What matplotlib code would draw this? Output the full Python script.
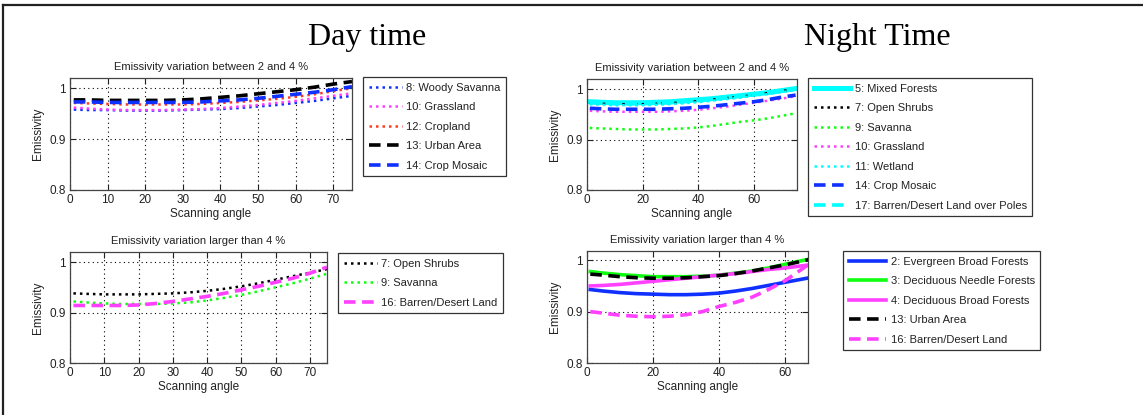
import matplotlib
matplotlib.use("Agg")
import matplotlib.pyplot as plt
from matplotlib.lines import Line2D

plt.rcParams['font.family'] = ['Liberation Sans', 'DejaVu Sans']

# ---------------- data ----------------
angles = [1, 5, 10, 15, 20, 25, 30, 35, 40, 45, 50, 55, 60, 65, 70, 75]

# Day time, variation between 2 and 4 %
day_woody_savanna = [0.958, 0.957, 0.957, 0.956, 0.956, 0.956, 0.957, 0.958, 0.959, 0.961, 0.964, 0.967, 0.971, 0.975, 0.980, 0.985]
day_grassland     = [0.962, 0.960, 0.958, 0.957, 0.957, 0.957, 0.958, 0.959, 0.961, 0.964, 0.967, 0.971, 0.975, 0.980, 0.985, 0.990]
day_cropland      = [0.971, 0.970, 0.969, 0.968, 0.968, 0.968, 0.968, 0.969, 0.971, 0.973, 0.976, 0.979, 0.983, 0.988, 0.994, 1.000]
day_urban         = [0.977, 0.977, 0.976, 0.976, 0.976, 0.976, 0.977, 0.979, 0.982, 0.985, 0.989, 0.993, 0.997, 1.002, 1.008, 1.013]
day_crop_mosaic   = [0.973, 0.973, 0.972, 0.972, 0.972, 0.972, 0.972, 0.973, 0.975, 0.977, 0.980, 0.984, 0.988, 0.992, 0.997, 1.003]

# Day time, variation larger than 4 %
day_open_shrubs   = [0.938, 0.937, 0.936, 0.936, 0.936, 0.937, 0.938, 0.940, 0.943, 0.947, 0.952, 0.958, 0.965, 0.972, 0.979, 0.986]
day_savanna       = [0.922, 0.920, 0.918, 0.917, 0.917, 0.917, 0.918, 0.920, 0.924, 0.929, 0.935, 0.942, 0.950, 0.958, 0.967, 0.977]
day_barren        = [0.914, 0.914, 0.914, 0.914, 0.915, 0.918, 0.922, 0.927, 0.932, 0.938, 0.945, 0.952, 0.960, 0.968, 0.978, 0.990]

# Night time, variation between 2 and 4 %
night_mixed_forests = [0.975, 0.974, 0.973, 0.973, 0.973, 0.974, 0.975, 0.977, 0.979, 0.981, 0.984, 0.987, 0.990, 0.993, 0.997, 1.001]
night_open_shrubs   = [0.972, 0.971, 0.970, 0.970, 0.970, 0.971, 0.972, 0.974, 0.976, 0.979, 0.982, 0.985, 0.988, 0.992, 0.996, 1.000]
night_savanna       = [0.923, 0.922, 0.921, 0.920, 0.920, 0.920, 0.921, 0.922, 0.924, 0.927, 0.931, 0.935, 0.938, 0.942, 0.947, 0.952]
night_grassland     = [0.957, 0.956, 0.955, 0.955, 0.955, 0.955, 0.956, 0.957, 0.959, 0.962, 0.965, 0.969, 0.973, 0.977, 0.981, 0.986]
night_wetland       = [0.970, 0.969, 0.968, 0.968, 0.968, 0.969, 0.970, 0.972, 0.974, 0.977, 0.980, 0.983, 0.987, 0.990, 0.994, 0.998]
night_crop_mosaic   = [0.962, 0.961, 0.960, 0.960, 0.960, 0.960, 0.961, 0.962, 0.964, 0.966, 0.969, 0.972, 0.975, 0.979, 0.984, 0.988]
night_barren_poles  = [0.973, 0.972, 0.971, 0.971, 0.971, 0.972, 0.973, 0.975, 0.977, 0.980, 0.983, 0.986, 0.989, 0.993, 0.997, 1.001]

# Night time, variation larger than 4 %
night_evergreen     = [0.943, 0.940, 0.937, 0.935, 0.934, 0.933, 0.933, 0.934, 0.936, 0.940, 0.945, 0.951, 0.957, 0.963, 0.969, 0.975]
night_decid_needle  = [0.978, 0.975, 0.972, 0.970, 0.968, 0.968, 0.968, 0.969, 0.971, 0.975, 0.979, 0.985, 0.992, 0.999, 1.006, 1.013]
night_decid_broad   = [0.950, 0.951, 0.953, 0.956, 0.959, 0.962, 0.965, 0.968, 0.971, 0.974, 0.978, 0.982, 0.985, 0.989, 0.993, 0.997]
night_urban         = [0.973, 0.971, 0.968, 0.966, 0.965, 0.965, 0.966, 0.968, 0.970, 0.974, 0.979, 0.985, 0.991, 0.998, 1.005, 1.012]
night_barren        = [0.900, 0.897, 0.893, 0.891, 0.890, 0.891, 0.894, 0.900, 0.910, 0.918, 0.928, 0.943, 0.960, 0.982, 1.005, 1.030]

panel_titles = ["Emissivity variation between 2 and 4 %", "Emissivity variation larger than 4 %"]
day_x_ticks = [0, 10, 20, 30, 40, 50, 60, 70]
night_x_ticks = [0, 20, 40, 60]
y_ticks = [0.8, 0.9, 1.0]
y_tick_labels = ["0.8", "0.9", "1"]

# ---------------- styling ----------------
BLUE = "#1030ff"
MAG = "#ff40ff"
RED = "#ff3a20"
BLK = "#000000"
GRN = "#10ff10"
CYA = "#00ffff"
FS = 8

W, H = 1143, 415
fig = plt.figure(figsize=(W / 100, H / 100), dpi=100)


def px_axes(x0, y0, x1, y1):
    return fig.add_axes([x0 / W, 1 - y1 / H, (x1 - x0) / W, (y1 - y0) / H])


def style(ax, xticks, xlim, ylim, title):
    ax.set_xlim(*xlim)
    ax.set_ylim(*ylim)
    ax.set_xticks(xticks)
    ax.set_yticks(y_ticks)
    ax.set_yticklabels(y_tick_labels)
    ax.tick_params(direction='in', length=4, width=0.8, top=True, right=True,
                   labelsize=FS + 0.5, pad=3, colors='#222222')
    ax.grid(True, linestyle=(0, (1, 3)), color='black', linewidth=0.8)
    for s in ax.spines.values():
        s.set_linewidth(0.9)
        s.set_color('#444444')
    ax.set_title(title, fontsize=FS, pad=6, color='#222222')
    ax.set_xlabel("Scanning angle", fontsize=FS + 0.5, labelpad=1, color='#222222')
    ax.set_ylabel("Emissivity", fontsize=FS + 0.5, labelpad=4, color='#222222')


def legend(ax, x, y, hl=3.0):
    lg = ax.legend(loc='upper left', bbox_to_anchor=(x / W, 1 - y / H),
                   bbox_transform=fig.transFigure, fontsize=FS, frameon=True,
                   fancybox=False, edgecolor='#333333', framealpha=1,
                   handlelength=hl, handletextpad=0.4, labelspacing=0.86,
                   borderpad=0.5, borderaxespad=0)
    lg.get_frame().set_linewidth(0.9)
    for t in lg.get_texts():
        t.set_color('#222222')
    return lg


DOT = (0, (1, 1.6))
DASH = (0, (3.2, 1.8))

# Top-left
ax1 = px_axes(70, 78, 352, 190)
ax1.plot(angles, day_woody_savanna, color=BLUE, ls=DOT, lw=1.8, label="8: Woody Savanna")
ax1.plot(angles, day_grassland, color=MAG, ls=DOT, lw=1.8, label="10: Grassland")
ax1.plot(angles, day_cropland, color=RED, ls=DOT, lw=1.8, label="12: Cropland")
ax1.plot(angles, day_urban, color=BLK, ls=DASH, lw=2.6, label="13: Urban Area")
ax1.plot(angles, day_crop_mosaic, color=BLUE, ls=DASH, lw=2.6, label="14: Crop Mosaic")
style(ax1, day_x_ticks, (0, 75), (0.8, 1.02), panel_titles[0])
legend(ax1, 363, 77)

# Bottom-left
ax2 = px_axes(70, 252, 327, 363)
ax2.plot(angles, day_open_shrubs, color=BLK, ls=DOT, lw=1.8, label="7: Open Shrubs")
ax2.plot(angles, day_savanna, color=GRN, ls=DOT, lw=1.8, label="9: Savanna")
ax2.plot(angles, day_barren, color=MAG, ls=DASH, lw=2.6, label="16: Barren/Desert Land")
style(ax2, day_x_ticks, (0, 75), (0.8, 1.02), panel_titles[1])
legend(ax2, 338, 253)

# Top-right
ax3 = px_axes(587, 79, 797, 190)
ax3.plot(angles, night_mixed_forests, color=CYA, ls='-', lw=3.6, label="5: Mixed Forests")
ax3.plot(angles, night_open_shrubs, color=BLK, ls=DOT, lw=1.8, label="7: Open Shrubs")
ax3.plot(angles, night_savanna, color=GRN, ls=DOT, lw=1.8, label="9: Savanna")
ax3.plot(angles, night_grassland, color=MAG, ls=DOT, lw=1.8, label="10: Grassland")
ax3.plot(angles, night_wetland, color=CYA, ls=DOT, lw=1.8, label="11: Wetland")
ax3.plot(angles, night_crop_mosaic, color=BLUE, ls=DASH, lw=2.6, label="14: Crop Mosaic")
ax3.plot(angles, night_barren_poles, color=CYA, ls=DASH, lw=2.6, label="17: Barren/Desert Land over Poles")
style(ax3, night_x_ticks, (0, 75.5), (0.8, 1.02), panel_titles[0])
legend(ax3, 808, 78, hl=3.3)

# Bottom-right
ax4 = px_axes(587, 251, 808, 363)
ax4.plot(angles, night_evergreen, color=BLUE, ls='-', lw=2.6, label="2: Evergreen Broad Forests")
ax4.plot(angles, night_decid_needle, color=GRN, ls='-', lw=2.6, label="3: Deciduous Needle Forests")
ax4.plot(angles, night_decid_broad, color=MAG, ls='-', lw=2.6, label="4: Deciduous Broad Forests")
ax4.plot(angles, night_urban, color=BLK, ls=DASH, lw=2.6, label="13: Urban Area")
ax4.plot(angles, night_barren, color=MAG, ls=DASH, lw=2.6, label="16: Barren/Desert Land")
style(ax4, night_x_ticks, (0, 67), (0.8, 1.018), panel_titles[1])
legend(ax4, 843, 251, hl=3.4)

# Big titles
fig.text(367 / W, 1 - 37 / H, "Day time", fontsize=23, family=['Liberation Serif', 'DejaVu Serif'],
         ha='center', va='center')
fig.text(877 / W, 1 - 37 / H, "Night Time", fontsize=23, family=['Liberation Serif', 'DejaVu Serif'],
         ha='center', va='center')

# Figure border (top and left)
fig.add_artist(Line2D([3 / W, 1.0], [1 - 5 / H, 1 - 5 / H], transform=fig.transFigure,
                      color='#222222', lw=1.6))
fig.add_artist(Line2D([3 / W, 3 / W], [0, 1 - 5 / H], transform=fig.transFigure,
                      color='#222222', lw=1.6))

fig.savefig("out.png", dpi=100)
